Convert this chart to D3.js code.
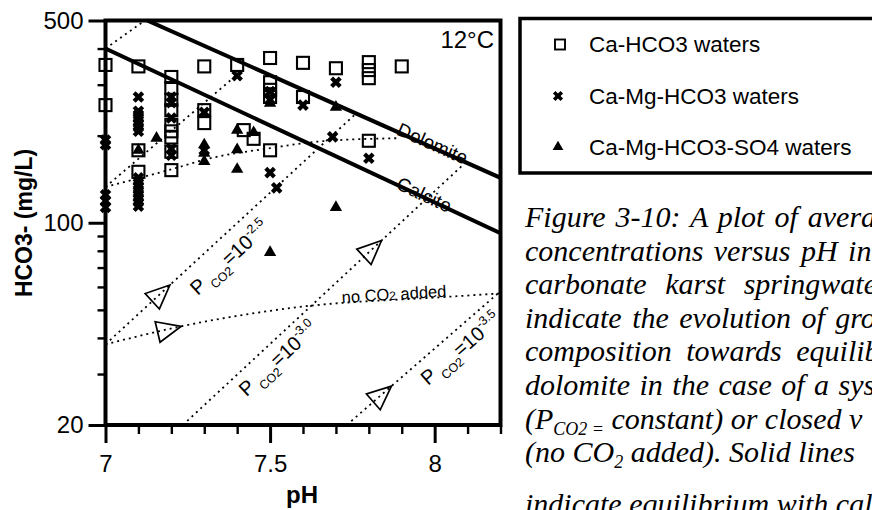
<!DOCTYPE html>
<html>
<head>
<meta charset="utf-8">
<script src="https://cdn.jsdelivr.net/npm/d3@7"></script>
<style>
  html, body { margin: 0; padding: 0; background: #fff; }
  svg { display: block; }
  text { font-family: "Liberation Sans", Arial, Helvetica, sans-serif; fill: #000; }
  .caption { font-family: "Liberation Serif", "Times New Roman", serif; font-style: italic; }
</style>
</head>
<body>
<svg id="chart" width="872" height="510"></svg>
<script>
// ---- samples: [pH, HCO3- (mg/L)] ----
const caHCO3 = [
  [7.0, 351], [7.0, 255],
  [7.1, 347], [7.1, 178], [7.1, 150],
  [7.2, 319], [7.2, 292], [7.2, 266], [7.2, 245], [7.2, 218], [7.2, 207], [7.2, 197], [7.2, 176], [7.2, 152],
  [7.3, 347], [7.3, 245], [7.3, 221],
  [7.4, 351], [7.42, 209], [7.45, 195],
  [7.5, 371], [7.5, 306], [7.5, 288], [7.5, 272], [7.5, 178],
  [7.6, 357], [7.6, 272],
  [7.7, 342],
  [7.8, 359], [7.8, 337], [7.8, 316], [7.8, 192],
  [7.9, 347]
];
const caMgHCO3 = [
  [7.0, 193], [7.0, 186], [7.0, 125], [7.0, 119], [7.0, 113],
  [7.1, 272], [7.1, 243], [7.1, 236], [7.1, 229], [7.1, 221], [7.1, 214], [7.1, 207],
  [7.1, 143], [7.1, 139], [7.1, 134], [7.1, 130], [7.1, 126], [7.1, 122], [7.1, 118], [7.1, 114],
  [7.2, 272], [7.2, 260], [7.2, 230], [7.2, 180], [7.2, 171],
  [7.3, 241], [7.3, 178],
  [7.4, 322],
  [7.5, 284], [7.5, 266], [7.5, 149], [7.52, 132],
  [7.6, 255],
  [7.7, 306], [7.69, 198],
  [7.8, 167]
];
const caMgHCO3SO4 = [
  [7.1, 178], [7.155, 196],
  [7.3, 186], [7.3, 174], [7.3, 163],
  [7.4, 209], [7.4, 179], [7.4, 153],
  [7.45, 205],
  [7.5, 259], [7.5, 79],
  [7.7, 251], [7.7, 113]
];

// ---- saturation lines ----
const calciteLine  = [[7.0, 400], [8.2, 92]];
const dolomiteLine = [[7.0, 580], [8.2, 143]];

// ---- evolution paths ----
const pathOpenHigh   = [[7.0, 400], [7.13, 510]];
const pathOpenMid    = [[7.0, 133], [7.40, 325]];
const pathClosedMid  = [[7.0, 133], [7.2, 153], [7.317, 167], [7.5, 181], [7.65, 191], [7.89, 196]];
const pathOpen25     = [[7.0, 38], [7.762, 239]];
const pathClosedLow  = [[7.0, 38], [7.236, 44], [7.579, 51], [8.044, 55.5], [8.2, 57]];
const pathOpen30     = [[7.235, 20], [8.09, 160]];
const pathOpen35     = [[7.733, 20], [8.2, 58]];

// ---- axis ticks ----
const xMajorTicks = [7, 7.5, 8];
const xMinorTicks = [7.1, 7.2, 7.3, 7.4, 7.6, 7.7, 7.8, 7.9, 8.1, 8.2];
const yMajorTicks = [20, 100, 500];
const yMinorTicks = [30, 40, 50, 60, 70, 80, 90, 200, 300, 400];

const legendLabels = ["Ca-HCO3 waters", "Ca-Mg-HCO3 waters", "Ca-Mg-HCO3-SO4 waters"];

const captionLines = [
  [["Figure 3-10: A plot of average HCO3-", ""]],
  [["concentrations versus pH in", ""]],
  [["carbonate karst springwaters.", ""]],
  [["indicate the evolution of groundwater", ""]],
  [["composition towards equilibrium", ""]],
  [["dolomite in the case of a system open", ""]],
  [["(P", ""], ["CO2 =", "sub"], [" constant) or closed v", ""]],
  [["(no CO", ""], ["2", "sub"], [" added). Solid lines", ""]],
  [["indicate equilibrium with calcite and", ""]]
];
// justified paragraph: extra space between words on each line
const captionWordSpacing = [2.5, 3, 11, 3, 7, 2, 0, 0, 0];

// ---- scales ----
const svg = d3.select("#chart");
const x = d3.scaleLinear().domain([7, 8.2]).range([105.5, 500.5]);
const y = d3.scaleLog().domain([20, 500]).range([425, 20.5]);

svg.append("defs").append("clipPath").attr("id", "plotClip")
  .append("rect")
  .attr("x", x(7)).attr("y", y(500))
  .attr("width", x(8.2) - x(7)).attr("height", y(20) - y(500));

const plot = svg.append("g");
const clipped = plot.append("g").attr("clip-path", "url(#plotClip)");

const lineGen = d3.line().x(d => x(d[0])).y(d => y(d[1]));
const curveGen = d3.line().x(d => x(d[0])).y(d => y(d[1])).curve(d3.curveMonotoneX);

// value on a path at a given pH (log-linear between vertices)
function valueAt(path, ph) {
  for (let i = 0; i < path.length - 1; i++) {
    const a = path[i], b = path[i + 1];
    if (ph >= a[0] && ph <= b[0]) {
      const t = (ph - a[0]) / (b[0] - a[0]);
      return Math.exp(Math.log(a[1]) + t * (Math.log(b[1]) - Math.log(a[1])));
    }
  }
  return path[path.length - 1][1];
}
function frameAt(path, ph) {
  const px = x(ph), py = y(valueAt(path, ph));
  const p1 = [x(ph - 0.01), y(valueAt(path, Math.max(path[0][0], ph - 0.01)))];
  const p2 = [x(ph + 0.01), y(valueAt(path, Math.min(path[path.length - 1][0], ph + 0.01)))];
  const ang = Math.atan2(p2[1] - p1[1], p2[0] - p1[0]);
  return { x: px, y: py, ang };
}
function offsetFrame(path, ph, n) {
  const f = frameAt(path, ph);
  return { x: f.x - Math.sin(f.ang) * n, y: f.y + Math.cos(f.ang) * n, deg: f.ang * 180 / Math.PI };
}

// dotted evolution paths
[pathOpenHigh, pathOpenMid, pathOpen25, pathOpen30, pathOpen35].forEach(p => {
  clipped.append("path").attr("d", lineGen(p))
    .attr("fill", "none").attr("stroke", "#000")
    .attr("stroke-width", 1.8).attr("stroke-dasharray", "2,4");
});
[pathClosedMid, pathClosedLow].forEach(p => {
  clipped.append("path").attr("d", curveGen(p))
    .attr("fill", "none").attr("stroke", "#000")
    .attr("stroke-width", 1.8).attr("stroke-dasharray", "2,4");
});

// saturation lines
[calciteLine, dolomiteLine].forEach(p => {
  clipped.append("path").attr("d", lineGen(p))
    .attr("fill", "none").attr("stroke", "#000").attr("stroke-width", 4);
});

// direction arrows (open triangles)
const arrows = [
  { path: pathOpen25, ph: 7.16 },
  { path: pathClosedLow, ph: 7.182 },
  { path: pathOpen30, ph: 7.803 },
  { path: pathOpen35, ph: 7.832 }
];
arrows.forEach(a => {
  const f = frameAt(a.path, a.ph);
  plot.append("path")
    .attr("d", "M16,0L-8,-10.5L-8,10.5Z")
    .attr("transform", `translate(${f.x},${f.y}) rotate(${f.ang * 180 / Math.PI})`)
    .attr("fill", "none").attr("stroke", "#000").attr("stroke-width", 1.7)
    .attr("stroke-linejoin", "miter");
});

// frame
plot.append("rect")
  .attr("x", x(7)).attr("y", y(500))
  .attr("width", x(8.2) - x(7)).attr("height", y(20) - y(500))
  .attr("fill", "none").attr("stroke", "#000").attr("stroke-width", 4);

// axes
function styleAxis(g, w) {
  g.select(".domain").remove();
  g.selectAll(".tick line").attr("stroke", "#000").attr("stroke-width", w);
  g.selectAll(".tick text").attr("font-size", 24).attr("font-family", "'Liberation Sans', Arial, sans-serif").attr("fill", "#000");
}
svg.append("g").attr("transform", `translate(0,${y(20)})`)
  .call(d3.axisBottom(x).tickValues(xMinorTicks).tickSize(9).tickFormat(""))
  .call(g => styleAxis(g, 2.4));
svg.append("g").attr("transform", `translate(0,${y(20)})`)
  .call(d3.axisBottom(x).tickValues(xMajorTicks).tickSize(18).tickPadding(12).tickFormat(d3.format("")))
  .call(g => styleAxis(g, 3));
svg.append("g").attr("transform", `translate(${x(7)},0)`)
  .call(d3.axisLeft(y).tickValues(yMinorTicks).tickSize(8).tickFormat(""))
  .call(g => styleAxis(g, 2.4));
svg.append("g").attr("transform", `translate(${x(7)},0)`)
  .call(d3.axisLeft(y).tickValues(yMajorTicks).tickSize(17).tickPadding(5).tickFormat(d3.format("")))
  .call(g => styleAxis(g, 3));

// axis titles
svg.append("text").attr("x", 302).attr("y", 503).attr("text-anchor", "middle")
  .attr("font-size", 24).attr("font-weight", "bold").text("pH");
svg.append("text").attr("transform", "translate(32,223) rotate(-90)").attr("text-anchor", "middle")
  .attr("font-size", 23).attr("font-weight", "bold").text("HCO3- (mg/L)");

// samples
plot.append("g").selectAll("rect").data(caHCO3).join("rect")
  .attr("x", d => x(d[0]) - 6).attr("y", d => y(d[1]) - 6)
  .attr("width", 12).attr("height", 12)
  .attr("fill", "none").attr("stroke", "#000").attr("stroke-width", 2.1);
const crossPath = "M-4.3,-4.3L4.3,4.3M-4.3,4.3L4.3,-4.3";
plot.append("g").selectAll("path").data(caMgHCO3).join("path")
  .attr("d", crossPath)
  .attr("transform", d => `translate(${x(d[0])},${y(d[1])})`)
  .attr("stroke", "#000").attr("stroke-width", 4.2).attr("fill", "none");
const tri = d3.symbol(d3.symbolTriangle, 66)();
plot.append("g").selectAll("path").data(caMgHCO3SO4).join("path")
  .attr("d", tri)
  .attr("transform", d => `translate(${x(d[0])},${y(d[1])})`)
  .attr("fill", "#000");

// line labels
function alongLabel(path, ph, n, txt, size) {
  const f = offsetFrame(path, ph, n);
  return svg.append("text")
    .attr("transform", `translate(${f.x},${f.y}) rotate(${f.deg})`)
    .attr("font-size", size).text(txt);
}
alongLabel(dolomiteLine, 7.885, 3, "Dolomite", 19);
alongLabel(calciteLine, 7.885, 4, "Calcite", 19);

function pco2Label(path, ph, n, exp) {
  const f = offsetFrame(path, ph, n);
  const t = svg.append("text")
    .attr("transform", `translate(${f.x},${f.y}) rotate(${f.deg})`)
    .attr("font-size", 20);
  t.append("tspan").text("P");
  t.append("tspan").attr("dx", 4).attr("dy", 7).attr("font-size", 12.5).text("CO2");
  t.append("tspan").attr("dy", -7).text("=10");
  t.append("tspan").attr("dy", -9).attr("font-size", 12.5).text(exp);
}
pco2Label(pathOpen25, 7.225, 27, "-2.5");
pco2Label(pathOpen30, 7.381, 23, "-3.0");
pco2Label(pathOpen35, 7.932, 24, "-3.5");

// closed-system label
{
  const t = svg.append("text")
    .attr("transform", `translate(342,303) rotate(-3.5)`)
    .attr("font-size", 16.5);
  t.append("tspan").text("no CO");
  t.append("tspan").attr("font-size", 12).text("2");
  t.append("tspan").text(" added");
}

svg.append("text").attr("x", 494).attr("y", 48).attr("text-anchor", "end")
  .attr("font-size", 24).text("12°C");

// legend
const lg = svg.append("g");
lg.append("rect").attr("x", 520).attr("y", 18.5).attr("width", 400).attr("height", 154.5)
  .attr("fill", "#fff").attr("stroke", "#000").attr("stroke-width", 3.5);
const rowY = [44.5, 96, 147];
lg.append("rect").attr("x", 555).attr("y", rowY[0] - 5).attr("width", 10).attr("height", 10)
  .attr("fill", "none").attr("stroke", "#000").attr("stroke-width", 1.9);
lg.append("path").attr("d", "M-3.8,-3.8L3.8,3.8M-3.8,3.8L3.8,-3.8")
  .attr("transform", `translate(558,${rowY[1]})`)
  .attr("stroke", "#000").attr("stroke-width", 3.6);
lg.append("path").attr("d", d3.symbol(d3.symbolTriangle, 50)())
  .attr("transform", `translate(558,${rowY[2]})`).attr("fill", "#000");
lg.selectAll("text.lab").data(legendLabels).join("text").attr("class", "lab")
  .attr("x", 589).attr("y", (d, i) => rowY[i] + 7.5)
  .attr("font-size", 22.5).text(d => d);

// caption
const cap = svg.append("g");
captionLines.forEach((segs, i) => {
  const t = cap.append("text").attr("class", "caption")
    .attr("x", 525).attr("y", i < 8 ? 227 + i * 33.6 : 514)
    .attr("font-size", 30)
    .attr("word-spacing", captionWordSpacing[i]);
  let lastSub = false;
  segs.forEach(([s, role]) => {
    const ts = t.append("tspan").text(s);
    if (role === "sub") { ts.attr("font-size", 18).attr("dy", 6); lastSub = true; }
    else if (lastSub) { ts.attr("dy", -6); lastSub = false; }
  });
});
</script>
</body>
</html>
